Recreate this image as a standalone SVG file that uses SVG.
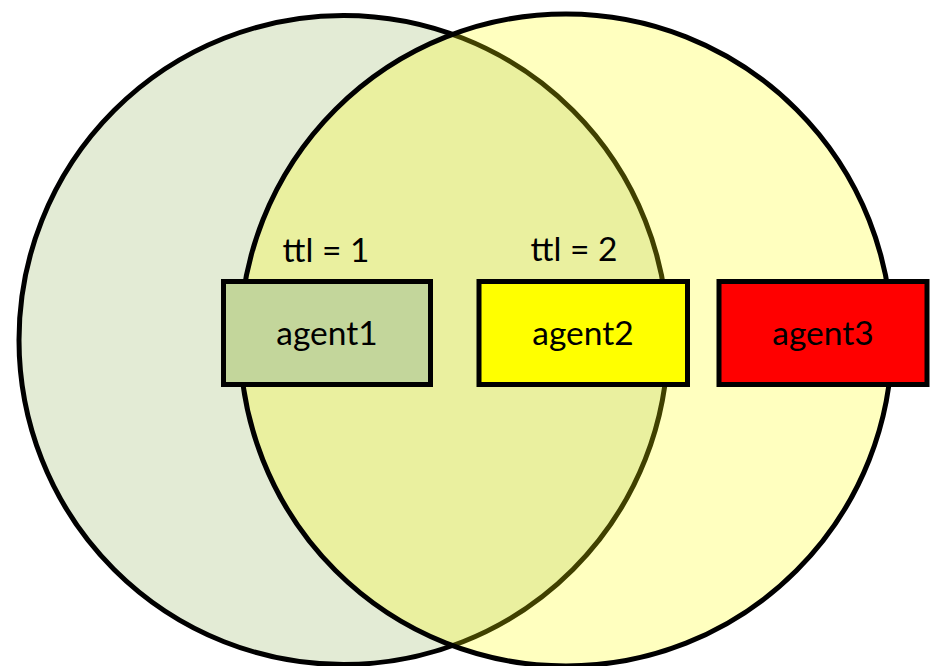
<svg xmlns="http://www.w3.org/2000/svg" width="932" height="666" viewBox="0 0 932 666">
<style>
.c{stroke:#000;stroke-width:5}
.box{stroke:#000;stroke-width:5}
.t{font-family:"Lato","Liberation Sans",sans-serif;font-size:33.5px;fill:#000;text-anchor:middle}
</style>
<rect width="932" height="666" fill="#fff"/>
<g id="circleLeft"><circle class="c" cx="343.5" cy="340" r="324.5" fill="#e3ebd5"/></g>
<g id="circleRight"><circle cx="566" cy="340" r="326" fill="#ffff00" fill-opacity="0.25" stroke="#000" stroke-width="5"/></g>
<g id="ttl1"><text class="t" x="326" y="262">ttl = 1</text></g>
<g id="ttl2"><text class="t" x="574" y="261">ttl = 2</text></g>
<g id="agent1"><rect class="box" x="223.5" y="281.5" width="207" height="103" fill="#c3d69b"/><text class="t" x="327" y="345">agent1</text></g>
<g id="agent2"><rect class="box" x="479" y="281.5" width="208.5" height="103" fill="#ffff00"/><text class="t" x="583" y="345">agent2</text></g>
<g id="agent3"><rect class="box" x="719" y="281.5" width="208" height="103" fill="#ff0000"/><text class="t" x="823" y="345">agent3</text></g>
<g id="connectors"/>
</svg>
